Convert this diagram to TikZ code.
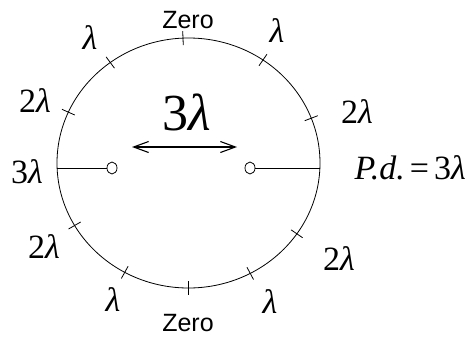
\documentclass[tikz,border=0pt]{standalone}
\usepackage{fontspec}
\setmainfont{Liberation Serif}
\setsansfont{Liberation Sans}
\usetikzlibrary{arrows.meta,shapes.geometric}

\begin{document}
\begin{tikzpicture}[
  x=1pt, y=-1pt,
  lab/.style={inner sep=0pt, font=\fontsize{34}{34}\selectfont},
  biglab/.style={inner sep=0pt, font=\fontsize{52}{52}\selectfont},
  zlab/.style={inner sep=0pt, font=\sffamily\fontsize{25}{25}\selectfont},
  probe/.style={draw, ellipse, inner sep=0pt, minimum width=10pt, minimum height=12pt, line width=0.8pt},
  wire/.style={line width=0.8pt},
  dbl/.style={{Straight Barb[length=15pt,width=11pt]}-{Straight Barb[length=15pt,width=11pt]}, line width=1.1pt}
]
\useasboundingbox (0,0) rectangle (466,338);
% the path circle and its marks
\draw[wire] (188.5,163) ellipse [x radius=131.5pt, y radius=125pt];
\foreach \a in {21,55.5,92.4,126.5,156,210,241,270,298,325.5}
  \draw[wire, shift={(188.5,163)}] ({124.5*cos(\a)},{-118*sin(\a)}) -- ({138.5*cos(\a)},{-132*sin(\a)});
% labels round the circle
\node[zlab] (zerotop) at (188,20) {Zero};
\node[zlab] (zerobot) at (188,323) {Zero};
\node[lab] (l1) at (90,38) {\textit{λ}};
\node[lab] (l2) at (35,101) {2\textit{λ}};
\node[lab] (l3) at (27,172) {3\textit{λ}};
\node[lab] (l4) at (44,247) {2\textit{λ}};
\node[lab] (l5) at (113,300) {\textit{λ}};
\node[lab] (r1) at (277,31) {\textit{λ}};
\node[lab] (r2) at (357,112) {2\textit{λ}};
\node[lab] (r4) at (339,259) {2\textit{λ}};
\node[lab] (r5) at (270,302) {\textit{λ}};
\node[lab, anchor=east] (pd) at (466,168) {\textit{P.d.}\kern5pt=\kern5pt3\textit{λ}};
% sources and spacing
\coordinate (wl) at (57,168);
\coordinate (wr) at (320,168);
\node[probe] (pl) at (112,168) {};
\node[probe] (pr) at (250,168) {};
\draw[wire] (wl) -- (pl);
\draw[wire] (pr) -- (wr);
\coordinate (al) at (132,147);
\coordinate (ar) at (237,147);
\draw[dbl] (al) -- (ar);
\node[biglab] (gap) at (187,112) {3\textit{λ}};
\end{tikzpicture}
\end{document}
